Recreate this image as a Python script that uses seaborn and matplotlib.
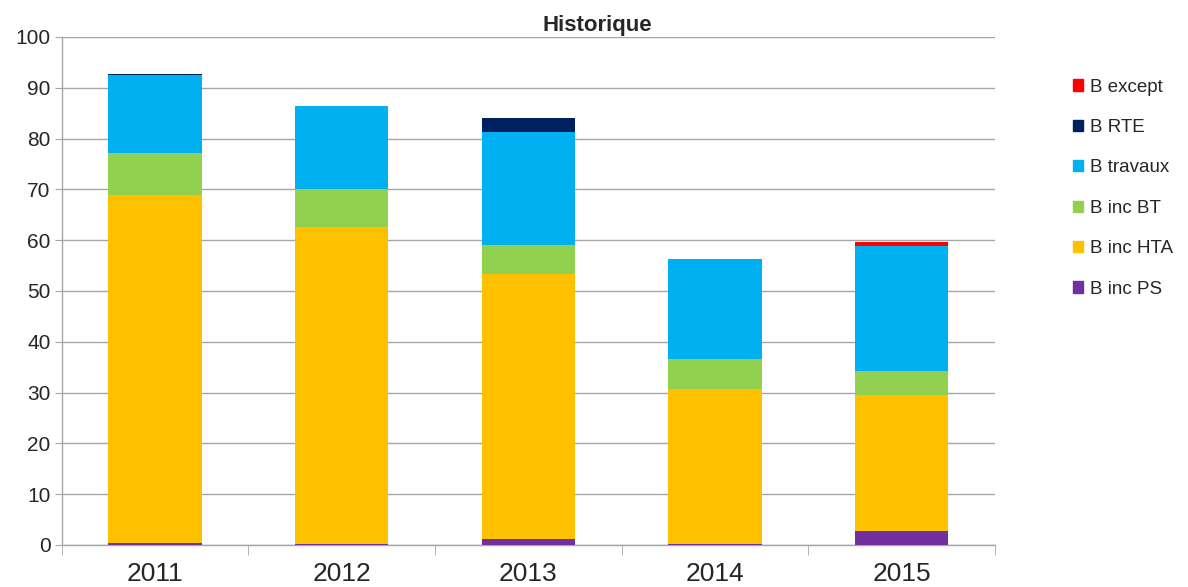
import seaborn as sns
import matplotlib.pyplot as plt
import pandas as pd
import numpy as np

years = ['2011', '2012', '2013', '2014', '2015']
b_inc_ps = [0.4, 0.2, 1.2, 0.1, 2.8]
b_inc_hta = [68.5, 62.4, 52.1, 30.6, 26.7]
b_inc_bt = [8.3, 7.5, 5.8, 5.9, 4.8]
b_travaux = [15.3, 16.3, 22.2, 19.7, 24.6]
b_rte = [0.2, 0.1, 2.8, 0.0, 0.0]
b_except = [0.0, 0.0, 0.0, 0.0, 0.7]

series = ['B inc PS', 'B inc HTA', 'B inc BT', 'B travaux', 'B RTE', 'B except']
values = [b_inc_ps, b_inc_hta, b_inc_bt, b_travaux, b_rte, b_except]
colors = ['#7030A0', '#FFC000', '#92D050', '#00B0F0', '#002060', '#FF0000']

df = pd.DataFrame(dict(zip(series, values)), index=years)
cum = df.cumsum(axis=1)

sns.set_style('white')
plt.rcParams['font.family'] = ['Liberation Sans', 'DejaVu Sans']

fig = plt.figure(figsize=(11.88, 5.87), dpi=100)
ax = fig.add_axes([0.052, 0.0716, 0.7856, 0.8654])

# draw stacks from top layer down so lower layers cover upper ones
for name, color in reversed(list(zip(series, colors))):
    d = pd.DataFrame({'year': years, 'val': cum[name].values})
    sns.barplot(data=d, x='year', y='val', color=color, width=0.5,
                saturation=1, ax=ax, zorder=3, edgecolor='none', linewidth=0)

ax.set_ylim(0, 100)
ax.set_xlim(-0.5, 4.5)
ax.set_yticks(np.arange(0, 101, 10))
ax.yaxis.grid(True, color='#A6A6A6', lw=1, zorder=0)
ax.set_axisbelow(True)
ax.set_xlabel('')
ax.set_ylabel('')
for s in ['top', 'right']:
    ax.spines[s].set_visible(False)
for s in ['left', 'bottom']:
    ax.spines[s].set_color('#A6A6A6')
    ax.spines[s].set_linewidth(1)
ax.tick_params(axis='y', labelsize=15, length=5, color='#A6A6A6',
               left=True, pad=3)
ax.tick_params(axis='x', labelsize=19, length=0, pad=12)
ax.set_xticks(np.arange(-0.5, 5, 1), minor=True)
ax.tick_params(axis='x', which='minor', length=7, color='#A6A6A6',
               bottom=True, direction='out')
fig.text(0.503, 0.957, 'Historique', fontsize=16, fontweight='bold',
         ha='center', va='center')

handles = [plt.Rectangle((0, 0), 1, 1, color=c) for c in colors]
leg = fig.legend(handles[::-1], series[::-1], loc='upper left',
                 bbox_to_anchor=(0.889, 0.895), frameon=False, fontsize=13.5,
                 handlelength=0.55, handleheight=0.55, handletextpad=0.35,
                 labelspacing=1.25)

fig.savefig('out.png', dpi=100)
